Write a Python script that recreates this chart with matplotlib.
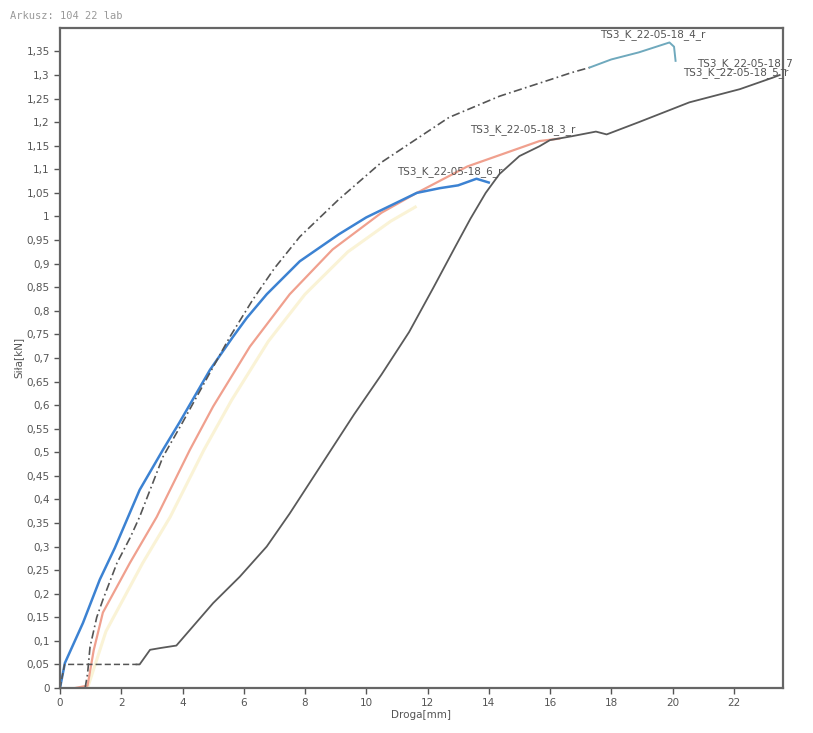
import matplotlib
matplotlib.use('Agg')
import matplotlib.pyplot as plt
import numpy as np

# Force [kN] vs displacement [mm]
blue_x = [0, 0.16, 0.75, 1.3, 1.79, 2.6, 3.36, 3.9, 4.9, 5.65, 6.1, 6.75,
          7.83, 9.1, 10.0, 11.65, 12.4, 13.0, 13.6, 14.0]
blue_y = [0, 0.053, 0.138, 0.23, 0.297, 0.42, 0.505, 0.563, 0.675, 0.745,
          0.785, 0.835, 0.905, 0.962, 0.998, 1.05, 1.06, 1.066, 1.08, 1.072]

red_x = [0.5, 0.9, 1.1, 1.4, 2.28, 3.16, 4.24, 5.0, 6.2, 7.5, 8.9, 10.5,
         11.65, 13.3, 14.35, 15.66, 16.3]
red_y = [0, 0.005, 0.08, 0.16, 0.265, 0.363, 0.505, 0.597, 0.724, 0.835,
         0.93, 1.008, 1.05, 1.106, 1.13, 1.16, 1.165]

yellow_x = [0.9, 1.5, 2.7, 3.6, 4.7, 5.6, 6.8, 8.0, 9.4, 10.8, 11.6]
yellow_y = [0, 0.12, 0.265, 0.363, 0.505, 0.61, 0.735, 0.835, 0.925, 0.99, 1.02]

dash_x = [0.82, 0.9, 0.98, 1.2, 1.4, 1.86, 2.3, 2.6, 3.36, 4.0, 4.9, 5.55,
          6.3, 7.0, 7.83, 9.1, 10.5, 12.7, 14.35, 16.0, 16.7, 17.3]
dash_y = [0, 0.03, 0.087, 0.15, 0.187, 0.265, 0.32, 0.363, 0.49, 0.563,
          0.669, 0.745, 0.824, 0.89, 0.957, 1.036, 1.115, 1.21, 1.255, 1.29,
          1.305, 1.316]
cyan_x = [17.3, 18.0, 18.9, 19.9, 20.05, 20.1]
cyan_y = [1.316, 1.333, 1.348, 1.369, 1.36, 1.33]

grey_x = [0, 0.15, 2.5, 2.6, 2.94, 3.3, 3.8, 4.24, 5.0, 5.87, 6.75, 7.5,
          8.2, 8.9, 9.6, 10.5, 11.4, 12.2, 12.9, 13.4, 13.9, 14.35, 15.0,
          15.66, 16.0, 16.7, 17.5, 17.85, 18.9, 20.55, 22.2, 23.3, 23.5]
grey_y = [0, 0.05, 0.05, 0.05, 0.081, 0.085, 0.09, 0.123, 0.18, 0.236, 0.3,
          0.37, 0.44, 0.51, 0.58, 0.665, 0.755, 0.85, 0.935, 0.995, 1.05,
          1.09, 1.128, 1.149, 1.162, 1.17, 1.18, 1.174, 1.2, 1.242, 1.27,
          1.295, 1.3]

labels = ['TS3_K_22-05-18_4_r', 'TS3_K_22-05-18_7', 'TS3_K_22-05-18_5_r',
          'TS3_K_22-05-18_3_r', 'TS3_K_22-05-18_6_r']
label_x = [17.65, 20.8, 20.35, 13.4, 11.0]
label_y = [1.386, 1.325, 1.305, 1.185, 1.095]

x_ticks = list(range(0, 24, 2))
y_ticks = np.round(np.arange(0, 1.36, 0.05), 2)

fig = plt.figure(figsize=(8.13, 7.33), dpi=100)
ax = fig.add_axes([0.0738, 0.0614, 0.889, 0.9006])

ax.plot(yellow_x, yellow_y, color='#faf3d6', lw=2.2)
ax.plot(red_x, red_y, color='#f0a08e', lw=1.6)
ax.plot(blue_x, blue_y, color='#3c82d2', lw=1.8)
ax.plot(dash_x, dash_y, color='#555555', lw=1.2, ls=(0, (5, 2, 1, 2)))
ax.plot(cyan_x, cyan_y, color='#6fa9bd', lw=1.4)
ax.plot(grey_x[:3], grey_y[:3], color='#555555', lw=1.1, ls=(0, (4, 2)))
ax.plot(grey_x[2:], grey_y[2:], color='#5a5a5a', lw=1.3)

for t, lx, ly in zip(labels, label_x, label_y):
    ax.text(lx, ly, t, fontsize=7.5, color='#555555', va='center', ha='left')

ax.set_xlim(0, 23.6)
ax.set_ylim(0, 1.40)
ax.set_xticks(x_ticks)
ax.set_yticks(y_ticks)
ax.set_yticklabels([f'{v:g}'.replace('.', ',') for v in y_ticks])
ax.tick_params(labelsize=7.5, colors='#555555', length=4, width=1)
ax.set_xlabel('Droga[mm]', fontsize=7.5, color='#555555', labelpad=1)
ax.set_ylabel('Siła[kN]', fontsize=7.5, color='#555555', labelpad=2)

for s in ax.spines.values():
    s.set_color('#666666')
    s.set_linewidth(1.6)

fig.text(0.012, 0.985, 'Arkusz: 104 22 lab', fontsize=7.5, color='#999999',
         family='DejaVu Sans Mono', va='top')

fig.savefig('out.png', dpi=100, facecolor='white')
